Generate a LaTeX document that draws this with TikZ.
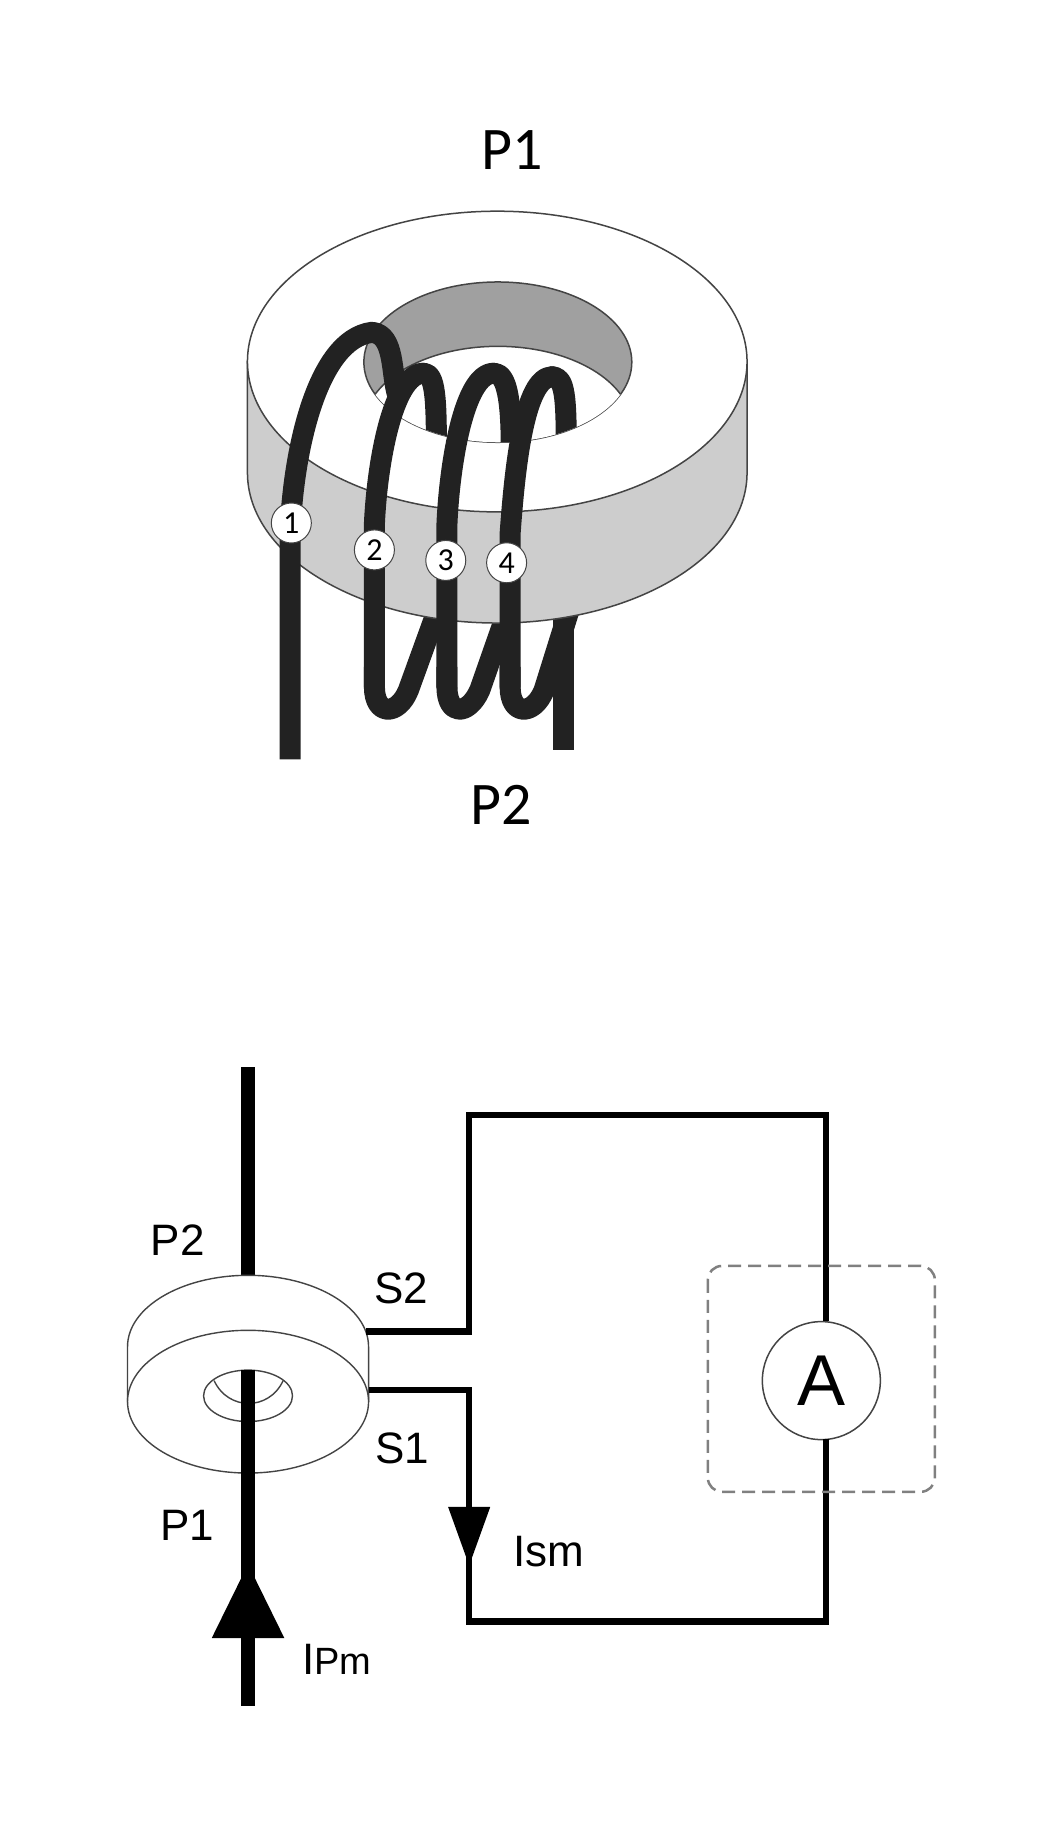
\documentclass[tikz,border=0pt]{standalone}
\usepackage{fontspec}
\setmainfont{Liberation Sans}
\newfontfamily\calfont{Carlito}
\definecolor{wirec}{HTML}{222222}
\definecolor{sidec}{HTML}{CDCDCD}
\definecolor{wallc}{HTML}{A0A0A0}
\definecolor{edgec}{HTML}{444444}
\tikzset{
  wire/.style={draw=wirec,line width=21pt,line join=round},
  rim/.style={draw=edgec,line width=1.5pt},
  thin rim/.style={draw=edgec,line width=1.4pt},
  numdot/.style={circle,fill=white,draw=edgec,line width=1pt,minimum size=40pt,inner sep=0pt,font=\calfont\fontsize{32}{32}\selectfont},
  biglabel/.style={font=\calfont\fontsize{54}{54}\selectfont,xscale=1.11,yscale=1.12,transform shape},
  lab/.style={font=\fontsize{44}{44}\selectfont,inner sep=0pt},
  primary/.style={draw=black,line width=14pt},
  secondary/.style={draw=black,line width=6.5pt,line join=miter},
  tipfill/.style={fill=black,draw=none},
}
\begin{document}
\begin{tikzpicture}[x=1.17pt,y=-1.17pt]
\useasboundingbox (0,0) rectangle (908.55,1569.23);
\fill[white] (0,0) rectangle (908.55,1569.23);

% wire portions behind the core
\draw[wire] (320,570) -- (320,587) .. controls (320,612) and (340,612) .. (349,590) -- (378,510);
\draw[wire] (382,570) -- (382,587) .. controls (382,612) and (400,612) .. (410,590) -- (438,510);
\draw[wire] (436,570) -- (436,587) .. controls (436,612) and (456,612) .. (465,590) -- (490,510);
\draw[wire] (482,510) -- (482,641);

% core
\path[fill=sidec,rim] (211.5,309) -- (211.5,404) arc[start angle=180,end angle=0,x radius=213.5,y radius=128.5] -- (638.5,309) -- cycle;
\path[fill=white,rim] (425,309) ellipse[x radius=213.5,y radius=128.5];
\path[fill=wallc,rim] (425.5,309.5) ellipse[x radius=114.5,y radius=68.5];
\begin{scope}
  \clip (425.5,309.5) ellipse[x radius=114.5,y radius=68.5];
  \path[fill=white,rim] (425.5,364.5) ellipse[x radius=114.5,y radius=68.5];
  % wire portions in the hole
  \draw[wire,line cap=round] (362,319) .. controls (372,319) and (373,340) .. (373,385);
  \draw[wire,line cap=round] (422,319) .. controls (433,319) and (437,340) .. (437,385);
  \draw[wire,line cap=round] (472,322) .. controls (483,322) and (484,340) .. (484,385);
\end{scope}

% front wire runs
\draw[wire] (248,649) -- (248,456) .. controls (250,390) and (270,290) .. (318,284) .. controls (338,286) and (334,320) .. (340,338);
\draw[wire,line cap=round] (320,587) -- (320,448) .. controls (322,400) and (335,319) .. (362,319);
\draw[wire,line cap=round] (382,587) -- (382,448) .. controls (384,400) and (396,319) .. (422,319);
\draw[wire,line cap=round] (436,587) -- (436,456) .. controls (440,400) and (448,322) .. (472,322);

% turn numbers
\node[numdot] (n1) at (249,447) {1};
\node[numdot] (n2) at (320,470) {2};
\node[numdot] (n3) at (381,479) {3};
\node[numdot] (n4) at (433,481) {4};
\node[biglabel] (lp1) at (438,128) {P1};
\node[biglabel] (lp2) at (428,688) {P2};

% lower diagram
\draw[primary] (212,912) -- (212,1095);
\path[fill=white,thin rim] (109,1151) arc[start angle=180,end angle=0,x radius=103,y radius=-61] -- (315,1198) -- (109,1198) -- cycle;
\path[fill=white,thin rim] (212,1198) ellipse[x radius=103,y radius=61];
\path[thin rim] (212,1193) ellipse[x radius=38,y radius=22];
\path[thin rim] (183,1180) .. controls (195,1206) and (230,1206) .. (242,1180);
\draw[primary] (212,1171) -- (212,1458);
\path[tipfill] (212,1337) -- (243,1400) -- (181,1400) -- cycle;

\node[circle,draw=edgec,line width=1.5pt,minimum size=118pt,inner sep=0pt,font=\fontsize{72}{72}\selectfont] (amm) at (702,1180) {A};
\coordinate (s2a) at (313,1138);
\coordinate (s2b) at (401,1138);
\coordinate (s2c) at (401,953);
\coordinate (s2d) at (706,953);
\coordinate (s1a) at (315,1188);
\coordinate (s1b) at (401,1188);
\coordinate (s1c) at (401,1386);
\coordinate (s1d) at (706,1386);
\draw[secondary] (s2a) -- (s2b) -- (s2c) -- (s2d) -- (706,1129);
\draw[secondary] (s1a) -- (s1b) -- (s1c) -- (s1d) -- (706,1230);
\path[tipfill] (383,1288) -- (419,1288) -- (401,1338) -- cycle;
\draw[draw=gray,line width=2.5pt,dash pattern=on 13pt off 7pt,rounded corners=14pt] (605,1082) rectangle (799,1275);

\node[lab] (tp2) at (152,1060) {P2};
\node[lab] (ts2) at (343,1101) {S2};
\node[lab] (ts1) at (344,1238) {S1};
\node[lab] (tp1) at (160,1304) {P1};
\node[lab] (tis) at (469,1326) {Ism};
\node[lab] (tip) at (288,1418) {I\fontsize{38}{38}\selectfont Pm};
\end{tikzpicture}
\end{document}
